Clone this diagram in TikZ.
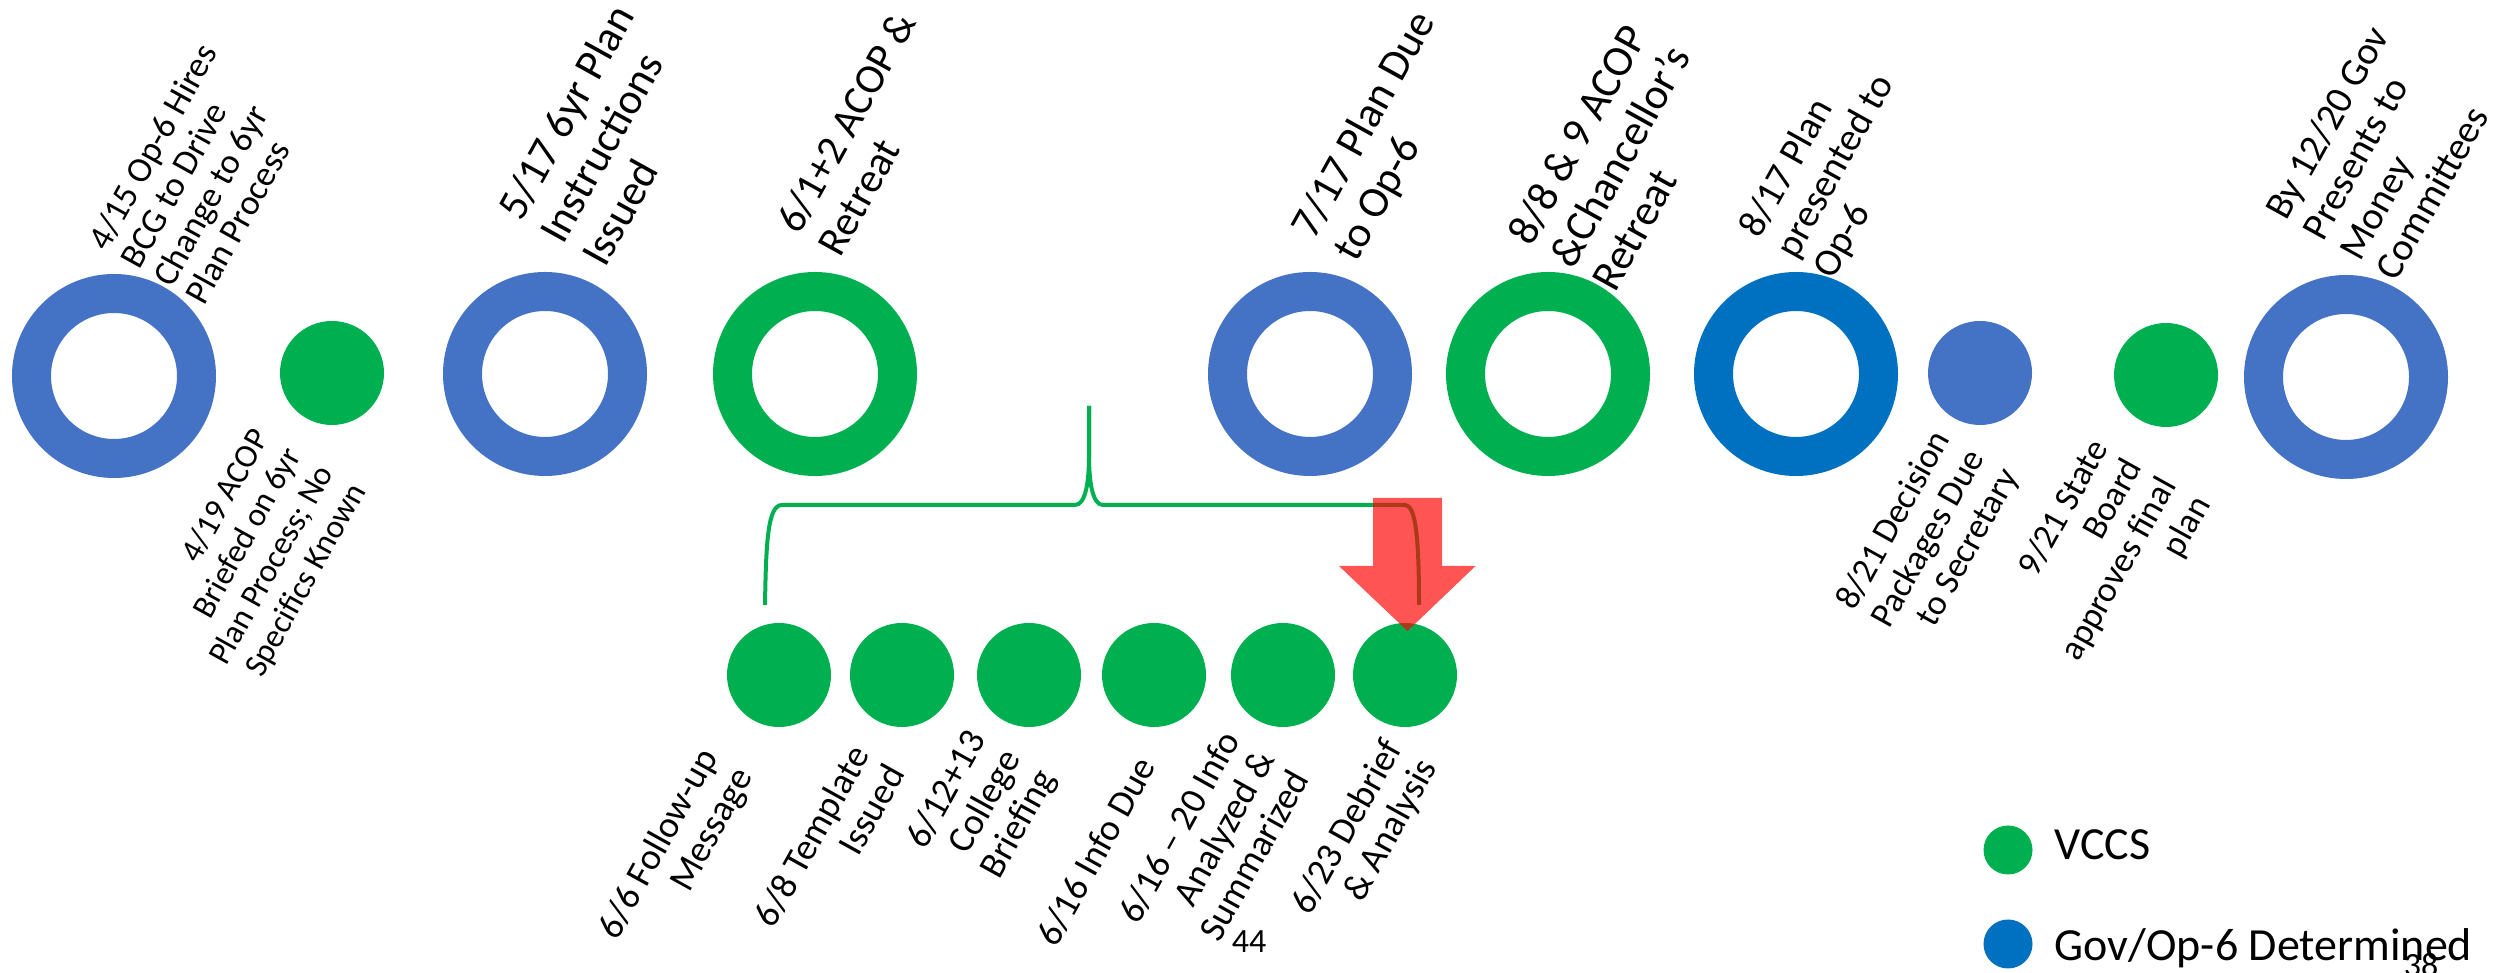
\documentclass[tikz,border=0pt]{standalone}
\usepackage{fontspec}
\setmainfont{Carlito}
\definecolor{ringblue}{HTML}{4472C4}
\definecolor{vgreen}{HTML}{00B050}
\definecolor{govblue}{HTML}{0070C0}
\newcommand{\fsz}[2]{\fontsize{#1}{#2}\selectfont}
\tikzset{
  ring/.style={circle, draw=#1, line width=3.9mm, minimum size=16.5mm, inner sep=0pt},
  dot/.style={circle, fill=#1, minimum size=10.4mm, inner sep=0pt},
  legdot/.style={circle, fill=#1, minimum size=4.9mm, inner sep=0pt},
  toplab/.style={rotate=61, anchor=north west, align=left, inner sep=0pt, text=black},
  botlab/.style={rotate=61, anchor=north east, align=right, inner sep=0pt, text=black},
  bigf/.style={font=\fsz{12.4pt}{13.66pt}},
  midf/.style={font=\fsz{11.1pt}{11.95pt}},
  smlf/.style={font=\fsz{10.1pt}{10.53pt}},
  bone/.style={font=\fsz{9.39pt}{10.53pt}},
  brow/.style={font=\fsz{10.6pt}{11.3pt}},
  bsec/.style={font=\fsz{10.1pt}{11.1pt}},
  brace/.style={draw=vgreen, line width=0.4mm},
  pagenum/.style={anchor=base, inner sep=0pt, font=\fsz{9.67pt}{11pt}},
  legtext/.style={anchor=base west, inner sep=0pt, font=\fsz{13.09pt}{15pt}}
}
\begin{document}
\begin{tikzpicture}[x=0.1mm, y=-0.1mm]
\useasboundingbox (0,0) rectangle (2509,973);
% top row
\node[ring=ringblue] (r1) at (114,376) {};
\node[dot=vgreen] (d1) at (332,373) {};
\node[ring=ringblue] (r2) at (545,374) {};
\node[ring=vgreen] (r3) at (815,374) {};
\node[ring=ringblue] (r4) at (1310,374) {};
\node[ring=vgreen] (r5) at (1548,374) {};
\node[ring=govblue] (r6) at (1796,374) {};
\node[dot=ringblue] (d2) at (1980,373) {};
\node[dot=vgreen] (d3) at (2166,375) {};
\node[ring=ringblue] (r7) at (2346,377) {};
% top labels
\node[toplab, smlf] (t1) at (85,241) {4/15 Op-6 Hires\\BCG to Drive\\Change to 6yr\\Plan Process};
\node[toplab, bigf] (t2) at (494,208) {5/17 6yr Plan\\Instructions\\Issued};
\node[toplab, font=\fsz{11.95pt}{13.4pt}] (t3) at (773,222) {6/1+2 ACOP \&\\Retreat};
\node[toplab, bigf] (t4) at (1287,226) {7/17 Plan Due\\to Op-6};
\node[toplab, bigf] (t5) at (1504,233) {8/8 \& 9 ACOP\\\&Chancellor’s\\Retreat};
\node[toplab, midf] (t6) at (1735,227) {8/17 Plan\\presented to\\Op-6};
\node[toplab, midf] (t7) at (2262,209) {By 12/20 Gov\\Presents to\\Money\\Committees};
% bottom labels of top row
\node[botlab, bone] (b1) at (249,425) {4/19 ACOP\\Briefed on 6yr\\Plan Process; No\\Specifics Known};
\node[botlab, bsec] (b8) at (1929,426) {8/21 Decision\\Packages Due\\to Secretary};
\node[botlab, bsec] (b9) at (2087,435) {9/21 State\\Board\\approves final\\plan};
% brace
\coordinate (bl) at (765,605);
\coordinate (br) at (1419,605);
\coordinate (bt) at (1089,406);
\draw[brace] (bl) .. controls (766,540) and (768,505) .. (782,505) -- (1075,505) .. controls (1086,505) and (1089,480) .. (1089,456) -- (bt);
\draw[brace] (bt) -- (1089,456) .. controls (1089,480) and (1092,505) .. (1103,505) -- (1405,505) .. controls (1416,505) and (1419,540) .. (br);
% bottom row
\node[dot=vgreen] (s1) at (779,675) {};
\node[dot=vgreen] (s2) at (902,675) {};
\node[dot=vgreen] (s3) at (1029,675) {};
\node[dot=vgreen] (s4) at (1154,675) {};
\node[dot=vgreen] (s5) at (1283,675) {};
\node[dot=vgreen] (s6) at (1405,675) {};
\node[botlab, brow] (c1) at (696,744) {6/6 Follow-up\\Message};
\node[botlab, brow] (c2) at (848,741) {6/8 Template\\Issued};
\node[botlab, brow] (c3) at (964,726) {6/12+13\\College\\Briefing};
\node[botlab, brow] (c4) at (1134,753) {6/16 Info Due};
\node[botlab, brow] (c5) at (1218,727) {6/16 – 20 Info\\Analyzed \&\\Summarized};
\node[botlab, brow] (c6) at (1380,735) {6/23 Debrief\\\& Analysis};
% red arrow
\fill[red, opacity=0.67] (1373,498) -- (1442,498) -- (1442,566) -- (1475.5,566) -- (1407.5,631) -- (1339,566) -- (1373,566) -- cycle;
% legend
\node[legdot=vgreen] (lv) at (2008,850) {};
\node[legtext] (lvt) at (2054,860) {VCCS};
\node[legdot=govblue] (lg) at (2008,944) {};
\node[legtext] (lgt) at (2054,961) {Gov/Op-6 Determined};
% page numbers
\node[pagenum] (p44) at (1249,953) {44};
\node[pagenum] (p38) at (2421,977) {38};
\end{tikzpicture}
\end{document}
